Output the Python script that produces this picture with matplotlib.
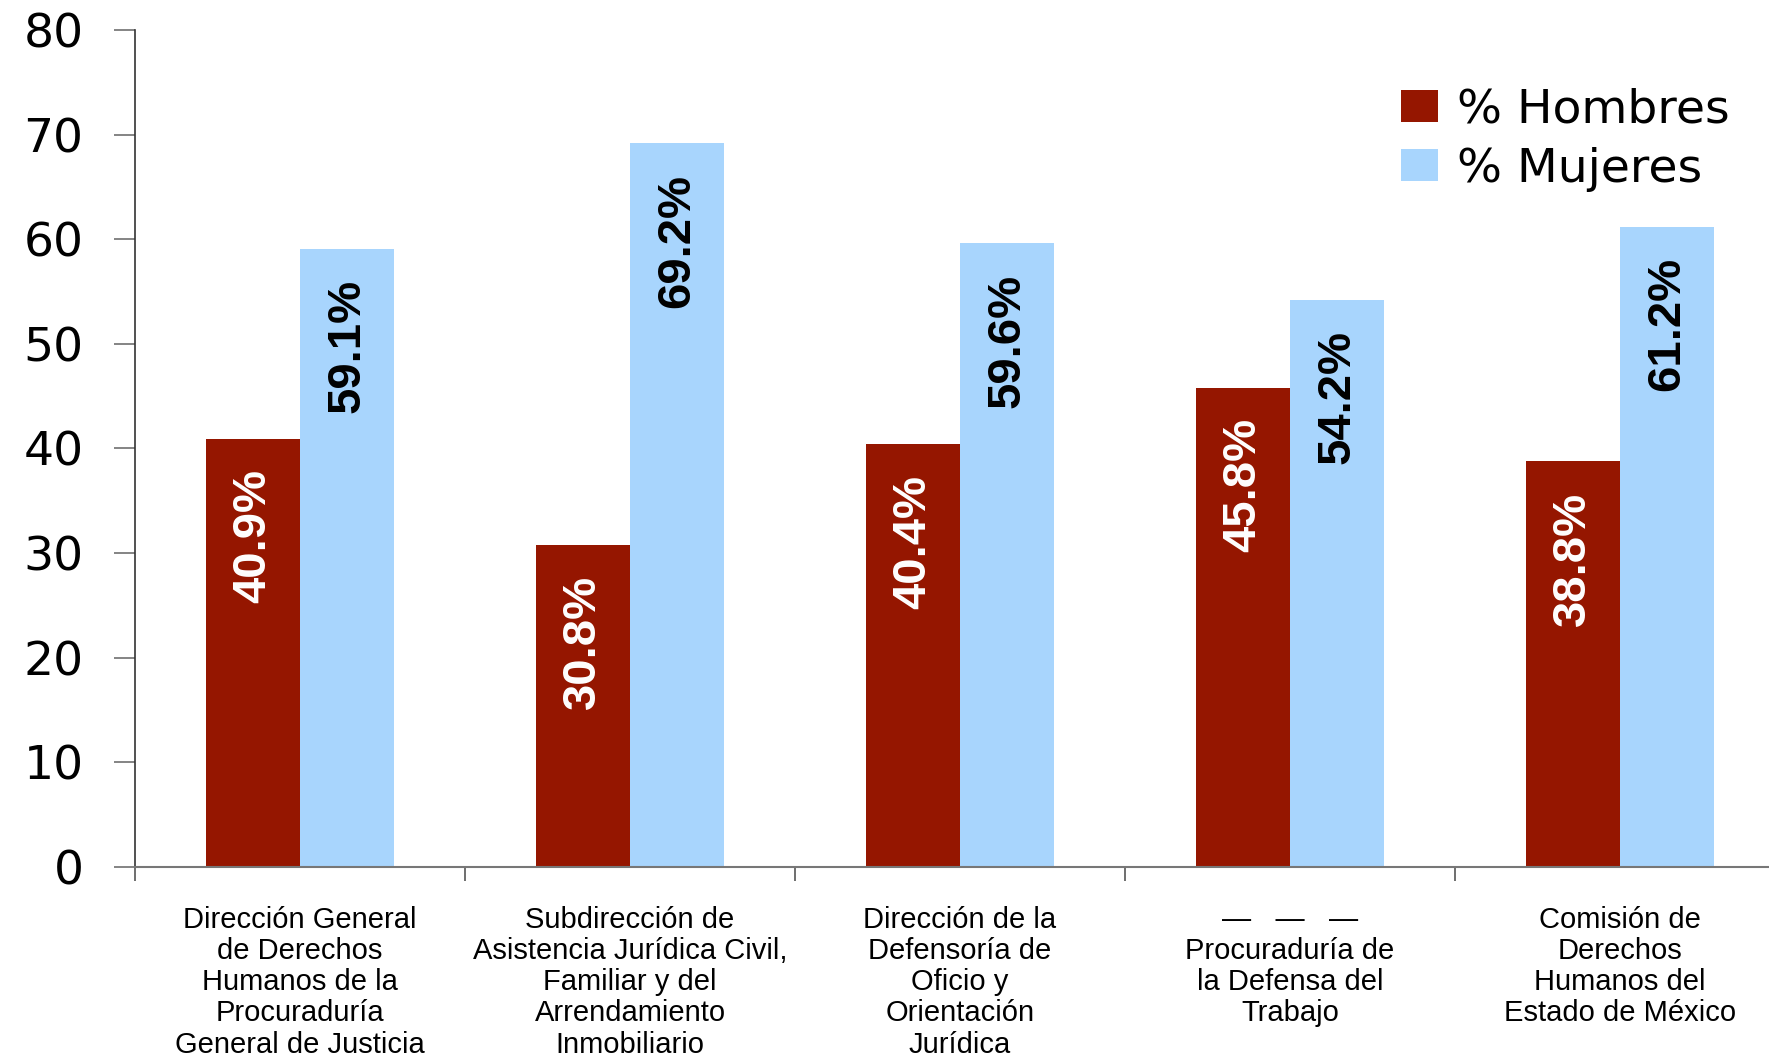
import matplotlib
matplotlib.use("Agg")
import matplotlib.pyplot as plt
import numpy as np

# data
categories = [
    "Dirección General\nde Derechos\nHumanos de la\nProcuraduría\nGeneral de Justicia",
    "Subdirección de\nAsistencia Jurídica Civil,\nFamiliar y del\nArrendamiento\nInmobiliario",
    "Dirección de la\nDefensoría de\nOficio y\nOrientación\nJurídica",
    "—   —   —\nProcuraduría de\nla Defensa del\nTrabajo",
    "Comisión de\nDerechos\nHumanos del\nEstado de México",
]
hombres = [40.9, 30.8, 40.4, 45.8, 38.8]
mujeres = [59.1, 69.2, 59.6, 54.2, 61.2]
yticks = [0, 10, 20, 30, 40, 50, 60, 70, 80]

red = '#951600'
blue = '#A8D5FD'

fig = plt.figure(figsize=(17.69, 10.56), dpi=100)
ax = fig.add_axes([135 / 1769, 189.3 / 1056, 1650 / 1769, 836.7 / 1056])

x = np.arange(len(categories))
w = 0.285
b1 = ax.bar(x - w / 2, hombres, w, color=red, label='% Hombres')
b2 = ax.bar(x + w / 2, mujeres, w, color=blue, label='% Mujeres')

# value labels, rotated, near the top of each bar
for bars, vals, col in [(b1, hombres, 'white'), (b2, mujeres, 'black')]:
    for rect, v in zip(bars, vals):
        ax.annotate(f"{v:.1f}%", (rect.get_x() + rect.get_width() / 2, v),
                    xytext=(0, -22), textcoords='offset points',
                    ha='center', va='top', rotation=90, color=col,
                    fontsize=34, fontweight='bold', family='Liberation Sans')

ax.set_xlim(-0.5, len(categories) - 0.5)
ax.set_ylim(0, 80)
ax.set_yticks(yticks)
ax.set_yticklabels([str(t) for t in yticks], family='DejaVu Sans', fontsize=34)
ax.tick_params(axis='y', direction='out', length=15, width=1.2, color='#707070', pad=22)

# major ticks at category boundaries, labels at centres
ax.set_xticks(np.arange(len(categories) + 1) - 0.5)
ax.set_xticklabels([])
ax.tick_params(axis='x', which='major', direction='out', length=10, width=1.2, color='#555555')
ax.set_xticks(x, minor=True)
ax.set_xticklabels(categories, minor=True, family='Liberation Sans', fontsize=21,
                   linespacing=1.15, va='top')
ax.tick_params(axis='x', which='minor', length=0, pad=28)

for s in ['top', 'right']:
    ax.spines[s].set_visible(False)
ax.spines['left'].set_color('#333333')
ax.spines['left'].set_linewidth(1.2)
ax.spines['bottom'].set_color('#777777')
ax.spines['bottom'].set_linewidth(1.5)

leg = ax.legend(loc='upper left', bbox_to_anchor=(1358 / 1769, 1 - 45 / 1056),
                bbox_transform=fig.transFigure, frameon=False,
                prop={'family': 'DejaVu Sans', 'size': 34},
                handlelength=0.8, handleheight=0.65, handletextpad=0.4,
                labelspacing=0.3)

fig.savefig('out.png', dpi=100)
